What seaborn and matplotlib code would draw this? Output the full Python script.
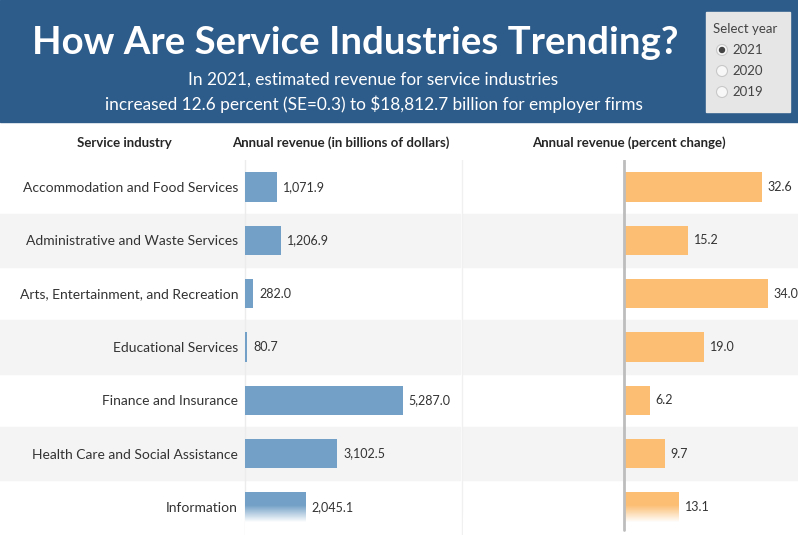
import numpy as np
import pandas as pd
import seaborn as sns
import matplotlib.pyplot as plt
from matplotlib.patches import Rectangle, Circle

industries = ['Accommodation and Food Services', 'Administrative and Waste Services',
              'Arts, Entertainment, and Recreation', 'Educational Services',
              'Finance and Insurance', 'Health Care and Social Assistance', 'Information']
revenue = [1071.9, 1206.9, 282.0, 80.7, 5287.0, 3102.5, 2045.1]
pct_change = [32.6, 15.2, 34.0, 19.0, 6.2, 9.7, 13.1]
years = ['2021', '2020', '2019']

sns.set_theme(style='white')
plt.rcParams['font.family'] = ['Lato', 'DejaVu Sans']

W, H = 798, 535
fig = plt.figure(figsize=(W / 100, H / 100), dpi=100)
fig.patch.set_facecolor('white')

def px_axes(x0, y0, x1, y1, **kw):
    # axes placed by pixel box (top-left origin)
    return fig.add_axes([x0 / W, 1 - y1 / H, (x1 - x0) / W, (y1 - y0) / H], **kw)

# background: header, row bands, column titles
bg = px_axes(0, 0, W, H)
bg.set_xlim(0, W)
bg.set_ylim(H, 0)
bg.axis('off')
bg.add_patch(Rectangle((0, 0), W, 122, color='#2e5c8a'))
bg.text(355, 43, 'How Are Service Industries Trending?', color='white', fontsize=27.6,
        fontweight='bold', ha='center', va='center')
bg.text(373, 80, 'In 2021, estimated revenue for service industries', color='white',
        fontsize=12.4, ha='center', va='center')
bg.text(374, 104, 'increased 12.6 percent (SE=0.3) to $18,812.7 billion for employer firms',
        color='white', fontsize=12.4, ha='center', va='center')

# year selector
bg.add_patch(Rectangle((706, 12), 84, 100, color='#e6e6e6'))
bg.text(713, 29, 'Select year', color='#444444', fontsize=9.5, va='center')
for i, yr in enumerate(years):
    cy = 50 + 21 * i
    bg.add_patch(Circle((722, cy), 5.5, facecolor='#f7f7f7', edgecolor='#c8c8c8', lw=0.8))
    if i == 0:
        bg.add_patch(Circle((722, cy), 2.5, color='#444444'))
    bg.text(732, cy, yr, color='#444444', fontsize=9.5, va='center')

row_top = 160.33
row_h = 53.33
for i in range(len(industries)):
    if i % 2 == 1:
        y = row_top + row_h * i
        bg.add_patch(Rectangle((0, y), 460, row_h, color='#f4f4f4'))
        bg.add_patch(Rectangle((463, y), W - 463, row_h, color='#f4f4f4'))
bg.plot([462, 462], [row_top, H], color='#f0f0f0', lw=1)
bg.plot([245, 245], [row_top, H], color='#ececec', lw=1)

bg.text(124, 143, 'Service industry', fontsize=9.5, fontweight='bold', ha='center', va='center')
bg.text(341, 143, 'Annual revenue (in billions of dollars)', fontsize=9.5, fontweight='bold',
        ha='center', va='center')
bg.text(629, 143, 'Annual revenue (percent change)', fontsize=9.5, fontweight='bold',
        ha='center', va='center')

df = pd.DataFrame({'industry': industries, 'revenue': revenue, 'pct': pct_change})

ylim = ((H - row_top) / row_h - 0.5, -0.5)

# fade at bottom of the bars
fade = np.ones((100, 1, 4))
yy = np.linspace(H, 505, 100)
fade[:, 0, 3] = np.clip((yy - 505) / 17, 0, 1)[::-1]

def add_fade(ax):
    top = 1 - (505 - row_top) / (H - row_top)
    ax.imshow(fade, extent=[0, 1, 0, top], transform=ax.transAxes, aspect='auto',
              origin='upper', zorder=2)

# left panel: revenue
ax1 = px_axes(245, row_top, 460, H)
sns.barplot(data=df, x='revenue', y='industry', orient='h', color='#73a0c6',
            saturation=1, width=0.545, linewidth=0, ax=ax1)
ax1.set_xlim(0, 215 / 0.0298)
ax1.set_ylim(*ylim)
ax1.bar_label(ax1.containers[0], labels=[f'{v:,.1f}' for v in revenue], padding=4,
              fontsize=9, color='#333333', zorder=5)
ax1.set_xlabel('')
ax1.set_ylabel('')
ax1.set_xticks([])
ax1.tick_params(axis='y', length=0, pad=5, labelsize=10, labelcolor='#333333')
ax1.set_facecolor('none')
sns.despine(ax=ax1, left=True, bottom=True)
add_fade(ax1)
ax1.set_xlim(0, 215 / 0.0298)
ax1.set_ylim(*ylim)

# right panel: percent change
ax2 = px_axes(463, row_top, W, H)
sns.barplot(data=df, x='pct', y='industry', orient='h', color='#fbbe73',
            saturation=1, width=0.545, linewidth=0, ax=ax2)
ax2.set_xlim(-160.5 / 4.25, 174.5 / 4.25)
ax2.set_ylim(*ylim)
ax2.bar_label(ax2.containers[0], labels=[f'{v:.1f}' for v in pct_change], padding=4,
              fontsize=9, color='#333333', zorder=5)
ax2.axvline(0, ymin=(H - 530) / (H - row_top), color='#bdbdbd', lw=2, zorder=6)
ax2.set_xlabel('')
ax2.set_ylabel('')
ax2.set_xticks([])
ax2.set_yticks([])
ax2.set_facecolor('none')
sns.despine(ax=ax2, left=True, bottom=True)
add_fade(ax2)
ax2.set_xlim(-160.5 / 4.25, 174.5 / 4.25)
ax2.set_ylim(*ylim)

fig.savefig('out.png', dpi=100)
